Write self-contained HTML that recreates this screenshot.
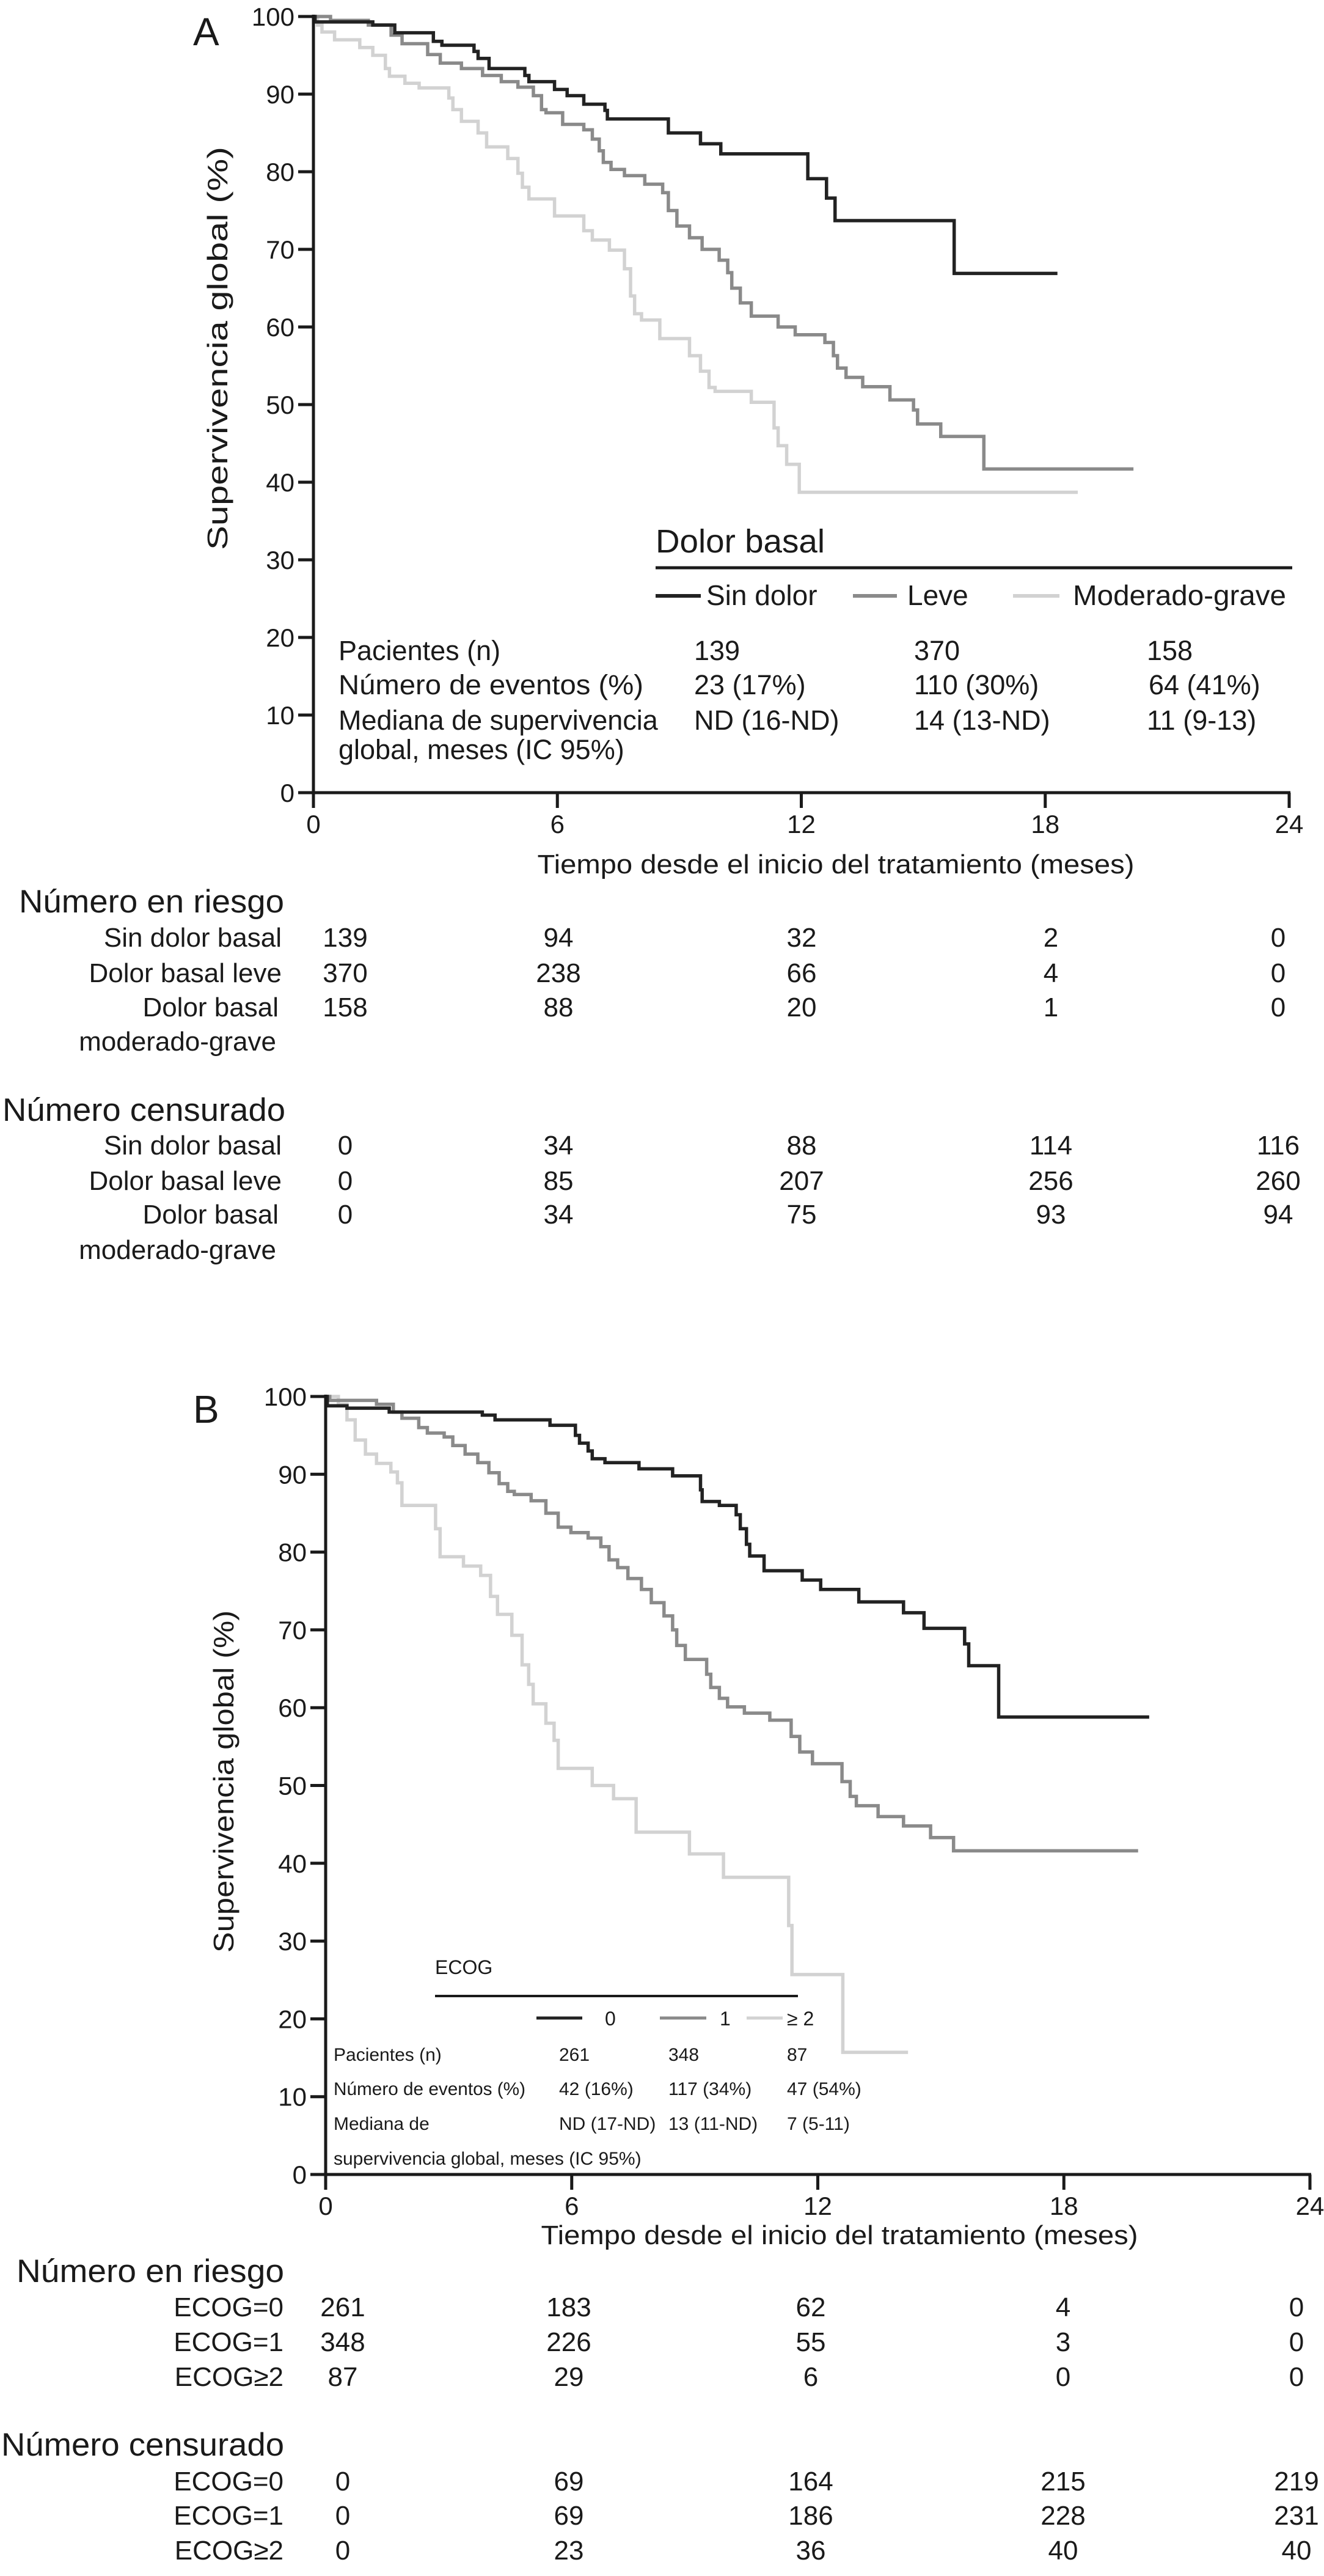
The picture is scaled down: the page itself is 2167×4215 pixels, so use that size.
<!DOCTYPE html>
<html><head><meta charset="utf-8"><style>
html,body{margin:0;padding:0;background:#fff;}
svg{display:block;font-family:"Liberation Sans",Arial,sans-serif;}
</style></head><body>
<svg id="fig" width="2167" height="4215" viewBox="0 0 2167 4215" xmlns="http://www.w3.org/2000/svg">
<rect width="2167" height="4215" fill="#fff"/>
<!-- Panel A static text -->
<g fill="#1a1a1a">
<text x="316" y="74" font-size="64">A</text>
<text transform="translate(372,570) rotate(-90)" text-anchor="middle" font-size="46" textLength="660" lengthAdjust="spacingAndGlyphs">Supervivencia global (%)</text>
<text x="1368" y="1429" text-anchor="middle" font-size="44" textLength="977" lengthAdjust="spacingAndGlyphs">Tiempo desde el inicio del tratamiento (meses)</text>
<g>
<text x="1073" y="904" font-size="54" textLength="277" lengthAdjust="spacingAndGlyphs">Dolor basal</text>
<line x1="1073" y1="929" x2="2115" y2="929" stroke="#1a1a1a" stroke-width="5"/>
<line x1="1073" y1="975" x2="1147" y2="975" stroke="#222" stroke-width="6"/>
<text x="1156" y="990" font-size="46">Sin dolor</text>
<line x1="1396" y1="975" x2="1468" y2="975" stroke="#8a8a8a" stroke-width="6"/>
<text x="1485" y="990" font-size="46">Leve</text>
<line x1="1658" y1="975" x2="1734" y2="975" stroke="#d2d2d2" stroke-width="6"/>
<text x="1756" y="990" font-size="46" textLength="349" lengthAdjust="spacingAndGlyphs">Moderado-grave</text>
</g>
<g font-size="45">
<text x="554" y="1080">Pacientes (n)</text><text x="1136" y="1080">139</text><text x="1496" y="1080">370</text><text x="1877" y="1080">158</text>
<text x="554" y="1136" textLength="499" lengthAdjust="spacingAndGlyphs">Número de eventos (%)</text><text x="1136" y="1136">23 (17%)</text><text x="1496" y="1136">110 (30%)</text><text x="1880" y="1136">64 (41%)</text>
<text x="554" y="1194">Mediana de supervivencia</text><text x="1136" y="1194">ND (16-ND)</text><text x="1496" y="1194">14 (13-ND)</text><text x="1877" y="1194">11 (9-13)</text>
<text x="554" y="1242">global, meses (IC 95%)</text>
</g>
<g>
<text x="31" y="1493" font-size="53" textLength="434" lengthAdjust="spacingAndGlyphs">Número en riesgo</text>
<g font-size="44" text-anchor="end">
<text x="461" y="1549">Sin dolor basal</text><text x="461" y="1607">Dolor basal leve</text><text x="456" y="1663">Dolor basal</text><text x="452" y="1719">moderado-grave</text>
</g>
<text x="4" y="1834" font-size="53" textLength="463" lengthAdjust="spacingAndGlyphs">Número censurado</text>
<g font-size="44" text-anchor="end">
<text x="461" y="1889">Sin dolor basal</text><text x="461" y="1947">Dolor basal leve</text><text x="456" y="2002">Dolor basal</text><text x="452" y="2060">moderado-grave</text>
</g>
</g>
</g>
<!-- Panel B static text -->
<g fill="#1a1a1a">
<text x="316" y="2328" font-size="64">B</text>
<text transform="translate(382,2915) rotate(-90)" text-anchor="middle" font-size="46" textLength="560" lengthAdjust="spacingAndGlyphs">Supervivencia global (%)</text>
<text x="1374" y="3672" text-anchor="middle" font-size="44" textLength="977" lengthAdjust="spacingAndGlyphs">Tiempo desde el inicio del tratamiento (meses)</text>
<g>
<text x="712" y="3230" font-size="32">ECOG</text>
<line x1="712" y1="3266" x2="1306" y2="3266" stroke="#1a1a1a" stroke-width="4"/>
<line x1="878" y1="3302" x2="953" y2="3302" stroke="#222" stroke-width="5"/>
<text x="990" y="3314" font-size="32">0</text>
<line x1="1080" y1="3302" x2="1156" y2="3302" stroke="#8a8a8a" stroke-width="5"/>
<text x="1178" y="3314" font-size="32">1</text>
<line x1="1222" y1="3302" x2="1281" y2="3302" stroke="#d2d2d2" stroke-width="5"/>
<text x="1288" y="3314" font-size="32">≥ 2</text>
</g>
<g font-size="30">
<text x="546" y="3372">Pacientes (n)</text><text x="915" y="3372">261</text><text x="1094" y="3372">348</text><text x="1288" y="3372">87</text>
<text x="546" y="3428" textLength="314" lengthAdjust="spacingAndGlyphs">Número de eventos (%)</text><text x="915" y="3428">42 (16%)</text><text x="1094" y="3428">117 (34%)</text><text x="1288" y="3428">47 (54%)</text>
<text x="546" y="3485">Mediana de</text><text x="915" y="3485">ND (17-ND)</text><text x="1094" y="3485">13 (11-ND)</text><text x="1288" y="3485">7 (5-11)</text>
<text x="546" y="3542">supervivencia global, meses (IC 95%)</text>
</g>
<g>
<text x="27" y="3734" font-size="53" textLength="438" lengthAdjust="spacingAndGlyphs">Número en riesgo</text>
<g font-size="44" text-anchor="end">
<text x="464" y="3790">ECOG=0</text><text x="464" y="3847">ECOG=1</text><text x="464" y="3904">ECOG≥2</text>
</g>
<text x="2" y="4018" font-size="53" textLength="463" lengthAdjust="spacingAndGlyphs">Número censurado</text>
<g font-size="44" text-anchor="end">
<text x="464" y="4075">ECOG=0</text><text x="464" y="4131">ECOG=1</text><text x="464" y="4188">ECOG≥2</text>
</g>
</g>
</g>
</svg>
<script>
// ---- data ----
var xTicks = [0, 6, 12, 18, 24];
var yTicks = [0, 10, 20, 30, 40, 50, 60, 70, 80, 90, 100];

// Panel A
var aSinT = [0, 0.04, 1.46, 2.0, 2.95, 3.16, 3.95, 4.05, 4.32, 5.2, 5.3, 5.93, 6.24, 6.65, 7.17, 7.23, 8.73, 9.52, 10.02, 12.16, 12.62, 12.83, 15.76];
var aSinS = [100, 99.3, 98.9, 97.9, 96.8, 96.3, 95.5, 94.6, 93.3, 92.4, 91.6, 90.6, 89.8, 88.7, 87.9, 86.8, 85.0, 83.6, 82.3, 79.1, 76.6, 73.7, 66.9];
var aSinEnd = 18.3;
var aLeveT = [0, 0.42, 1.35, 1.91, 2.18, 2.81, 3.12, 3.64, 4.16, 4.62, 5.03, 5.41, 5.61, 5.72, 6.13, 6.65, 6.86, 7.03, 7.13, 7.32, 7.65, 8.15, 8.59, 8.73, 8.94, 9.25, 9.56, 9.98, 10.19, 10.29, 10.5, 10.77, 11.43, 11.85, 12.58, 12.79, 12.89, 13.1, 13.51, 14.18, 14.76, 14.86, 15.43, 16.49];
var aLeveS = [100, 99.5, 98.9, 97.6, 96.5, 95.1, 94.0, 93.3, 92.4, 91.6, 90.9, 89.8, 88.0, 87.6, 86.1, 85.4, 84.2, 82.7, 81.2, 80.3, 79.5, 78.4, 77.3, 75, 73, 71.5, 70, 68.6, 67, 65, 63.1, 61.4, 60, 59, 58, 56.3, 54.7, 53.5, 52.3, 50.6, 49.3, 47.5, 45.9, 41.7];
var aLeveEnd = 20.17;
var aModT = [0, 0.1, 0.21, 0.52, 1.14, 1.46, 1.77, 1.87, 2.25, 2.6, 3.33, 3.43, 3.64, 4.05, 4.26, 4.78, 5.03, 5.14, 5.3, 5.93, 6.65, 6.86, 7.28, 7.65, 7.8, 7.9, 8.07, 8.52, 9.25, 9.52, 9.73, 9.88, 10.77, 11.33, 11.43, 11.64, 11.95];
var aModS = [100, 98.9, 98, 97, 96, 95, 93.3, 92.3, 91.4, 90.8, 89.5, 88, 86.5, 85, 83.2, 81.7, 79.8, 78, 76.5, 74.3, 72.4, 71.2, 69.9, 67.5, 64, 61.7, 60.9, 58.5, 56.3, 54.3, 52.2, 51.7, 50.3, 47, 44.7, 42.3, 38.7];
var aModEnd = 18.8;
var aRiskSin = [139, 94, 32, 2, 0];
var aRiskLeve = [370, 238, 66, 4, 0];
var aRiskMod = [158, 88, 20, 1, 0];
var aCensSin = [0, 34, 88, 114, 116];
var aCensLeve = [0, 85, 207, 256, 260];
var aCensMod = [0, 34, 75, 93, 94];

// Panel B
var bE0T = [0, 0.04, 0.52, 1.55, 3.82, 4.13, 5.47, 6.09, 6.19, 6.4, 6.5, 6.81, 7.64, 8.46, 9.14, 9.18, 9.6, 10.01, 10.11, 10.26, 10.34, 10.69, 11.62, 12.07, 13.0, 14.09, 14.59, 15.58, 15.68, 16.41];
var bE0S = [100, 98.8, 98.5, 98.0, 97.6, 97.0, 96.3, 95, 94, 93, 92, 91.5, 90.7, 89.8, 88, 86.5, 86, 84.8, 83, 81, 79.5, 77.6, 76.4, 75.2, 73.6, 72.2, 70.2, 68.2, 65.4, 58.8];
var bE0End = 20.08;
var bE1T = [0, 0.1, 1.24, 1.65, 1.86, 2.27, 2.48, 2.89, 3.1, 3.4, 3.71, 3.98, 4.23, 4.44, 4.6, 5.01, 5.37, 5.67, 5.98, 6.4, 6.71, 6.91, 7.12, 7.37, 7.7, 7.94, 8.25, 8.46, 8.56, 8.77, 9.29, 9.39, 9.6, 9.8, 10.21, 10.83, 11.35, 11.56, 11.87, 12.59, 12.79, 12.94, 13.47, 14.09, 14.75, 15.31];
var bE1S = [100, 99.5, 99, 98, 97.2, 96, 95.3, 94.8, 93.7, 92.6, 91.5, 90.2, 88.8, 87.8, 87.4, 86.6, 85, 83.2, 82.5, 81.8, 80.7, 79, 78, 76.6, 75.2, 73.5, 71.8, 70, 68, 66.2, 64.3, 62.6, 61.2, 60.1, 59.3, 58.4, 56.3, 54.3, 52.8, 50.5, 48.6, 47.4, 46, 44.8, 43.3, 41.6];
var bE1End = 19.81;
var bE2T = [0, 0.31, 0.52, 0.72, 0.97, 1.24, 1.59, 1.75, 1.86, 2.68, 2.79, 3.36, 3.78, 4.02, 4.19, 4.54, 4.79, 4.95, 5.06, 5.37, 5.57, 5.67, 6.5, 7.02, 7.57, 8.87, 9.7, 11.29, 11.37, 12.61];
var bE2S = [100, 99, 97, 94.4, 92.6, 91.4, 90.3, 88.9, 86, 83, 79.4, 78.2, 77, 74.3, 72, 69.3, 65.5, 63, 60.5, 58, 55.8, 52.2, 50, 48.3, 44, 41.2, 38.2, 32, 25.7, 15.7];
var bE2End = 14.2;
var bRisk0 = [261, 183, 62, 4, 0];
var bRisk1 = [348, 226, 55, 3, 0];
var bRisk2 = [87, 29, 6, 0, 0];
var bCens0 = [0, 69, 164, 215, 219];
var bCens1 = [0, 69, 186, 228, 231];
var bCens2 = [0, 23, 36, 40, 40];

// ---- drawing ----
var NS = 'http://www.w3.org/2000/svg';
var svg = document.getElementById('fig');
function mk(tag, attrs, parent) {
  var e = document.createElementNS(NS, tag);
  for (var k in attrs) e.setAttribute(k, attrs[k]);
  (parent || svg).appendChild(e);
  return e;
}
function makeAxes(x0, x24, y100, y0) {
  return {
    x: function (t) { return x0 + (x24 - x0) * t / 24; },
    y: function (s) { return y0 - (y0 - y100) * s / 100; }
  };
}
function drawAxes(ax, tag) {
  var g = mk('g', {});
  
  
  var x0 = ax.x(0), x24 = ax.x(24), y0 = ax.y(0), y100 = ax.y(100);
  var yl = mk('line', {x1: x0, y1: y100 - 3, x2: x0, y2: y0 + 3, stroke: '#1a1a1a', 'stroke-width': 5}, g);
  
  
  var xl = mk('line', {x1: x0 - 25, y1: y0, x2: x24 + 2, y2: y0, stroke: '#1a1a1a', 'stroke-width': 5}, g);
  
  
  yTicks.forEach(function (v) {
    var yy = ax.y(v);
    mk('line', {x1: x0 - 25, y1: yy, x2: x0, y2: yy, stroke: '#1a1a1a', 'stroke-width': 5}, g);
    var t = mk('text', {x: x0 - 31, y: yy + 15, 'text-anchor': 'end', 'font-size': 42, fill: '#1a1a1a'}, g);
    
    
    t.textContent = v;
  });
  xTicks.forEach(function (v) {
    var xx = ax.x(v);
    mk('line', {x1: xx, y1: y0, x2: xx, y2: y0 + 25, stroke: '#1a1a1a', 'stroke-width': 5}, g);
    var t = mk('text', {x: xx, y: y0 + 66, 'text-anchor': 'middle', 'font-size': 42, fill: '#1a1a1a'}, g);
    
    
    t.textContent = v;
  });
}
function drawCurve(ax, T, S, end, color, name) {
  var d = 'M' + ax.x(T[0]) + ' ' + ax.y(S[0]);
  for (var i = 1; i < T.length; i++) {
    d += ' H' + ax.x(T[i]) + ' V' + ax.y(S[i]);
  }
  d += ' H' + ax.x(end);
  var p = mk('path', {d: d, fill: 'none', stroke: color, 'stroke-width': 5.5, 'stroke-linejoin': 'miter'});
  
  
}
function drawRow(vals, cols, y, name) {
  vals.forEach(function (v, i) {
    var t = mk('text', {x: cols[i], y: y, 'text-anchor': 'middle', 'font-size': 44, fill: '#1a1a1a'});
    
    
    t.textContent = v;
  });
}

var axA = makeAxes(513, 2110, 27, 1297);
var axB = makeAxes(533, 2144, 2285, 3558);

drawCurve(axA, aModT, aModS, aModEnd, '#d2d2d2', 'curve-moderado-grave');
drawCurve(axA, aLeveT, aLeveS, aLeveEnd, '#8a8a8a', 'curve-leve');
drawCurve(axA, aSinT, aSinS, aSinEnd, '#222222', 'curve-sin-dolor');
drawAxes(axA, 'a');

drawCurve(axB, bE2T, bE2S, bE2End, '#d2d2d2', 'curve-ecog2');
drawCurve(axB, bE1T, bE1S, bE1End, '#8a8a8a', 'curve-ecog1');
drawCurve(axB, bE0T, bE0S, bE0End, '#222222', 'curve-ecog0');
drawAxes(axB, 'b');

var colsA = [565, 914, 1312, 1720, 2092];
drawRow(aRiskSin, colsA, 1549, 'risk-sin-dolor');
drawRow(aRiskLeve, colsA, 1607, 'risk-leve');
drawRow(aRiskMod, colsA, 1663, 'risk-moderado-grave');
drawRow(aCensSin, colsA, 1889, 'censored-sin-dolor');
drawRow(aCensLeve, colsA, 1947, 'censored-leve');
drawRow(aCensMod, colsA, 2002, 'censored-moderado-grave');

var colsB = [561, 931, 1327, 1740, 2122];
drawRow(bRisk0, colsB, 3790, 'risk-ecog0');
drawRow(bRisk1, colsB, 3847, 'risk-ecog1');
drawRow(bRisk2, colsB, 3904, 'risk-ecog2');
drawRow(bCens0, colsB, 4075, 'censored-ecog0');
drawRow(bCens1, colsB, 4131, 'censored-ecog1');
drawRow(bCens2, colsB, 4188, 'censored-ecog2');
</script>
</body></html>
